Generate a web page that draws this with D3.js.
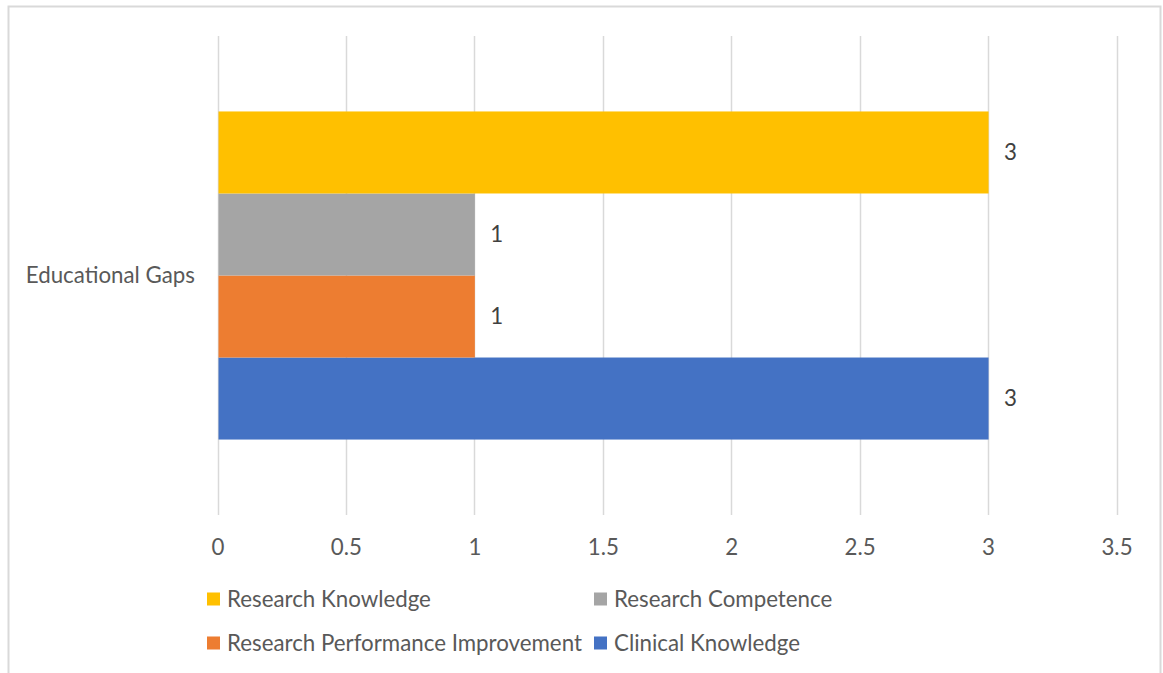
<!DOCTYPE html>
<html>
<head>
<meta charset="utf-8">
<script src="https://cdn.jsdelivr.net/npm/d3@7"></script>
<style>
  html, body { margin: 0; padding: 0; background: #fff; }
  svg { display: block; }
  text { font-family: Lato, "Open Sans", sans-serif; fill: #595959; }
</style>
</head>
<body>
<svg id="chart" width="1163" height="673"></svg>
<script>
// ---- data ----
const categories = ["Educational Gaps"];
const seriesNames = ["Clinical Knowledge", "Research Performance Improvement", "Research Competence", "Research Knowledge"];
const seriesValues = [3, 1, 1, 3];
const seriesColors = ["#4472C4", "#ED7D31", "#A5A5A5", "#FFC000"];
const xTicks = [0, 0.5, 1, 1.5, 2, 2.5, 3, 3.5];
const legendOrder = ["Research Knowledge", "Research Competence", "Research Performance Improvement", "Clinical Knowledge"];

const svg = d3.select("#chart");
const FS = 22.3;

// chart border
svg.append("rect")
  .attr("x", 8.5).attr("y", 6.5)
  .attr("width", 1152).attr("height", 680)
  .attr("fill", "#fff").attr("stroke", "#D9D9D9").attr("stroke-width", 2);

const plot = { left: 217.5, right: 1116.5, top: 36, bottom: 515 };

const x = d3.scaleLinear().domain([0, 3.5]).range([plot.left, plot.right]);

const yCat = d3.scaleBand().domain(categories).range([plot.top, plot.bottom]);

// series from top to bottom (Excel reverses order in horizontal bars)
const ySer = d3.scaleBand()
  .domain(seriesNames.slice().reverse())
  .range([yCat(categories[0]), yCat(categories[0]) + yCat.bandwidth()])
  .paddingInner(0)
  .paddingOuter(0.92);

// gridlines
const grid = svg.append("g");
grid.selectAll("line").data(xTicks).enter().append("line")
  .attr("x1", d => Math.round(x(d)) + 0.5).attr("x2", d => Math.round(x(d)) + 0.5)
  .attr("y1", plot.top).attr("y2", plot.bottom)
  .attr("stroke", "#D9D9D9").attr("stroke-width", 1.5);

// bars
const data = seriesNames.map((s, i) => ({ name: s, value: seriesValues[i], color: seriesColors[i] }));
svg.append("g").selectAll("rect").data(data).enter().append("rect")
  .attr("x", x(0) + 1)
  .attr("y", d => ySer(d.name))
  .attr("width", d => x(d.value) - x(0) - 0.5)
  .attr("height", ySer.bandwidth())
  .attr("fill", d => d.color);

// data labels
svg.append("g").selectAll("text").data(data).enter().append("text")
  .attr("x", d => x(d.value) + 16)
  .attr("y", d => ySer(d.name) + ySer.bandwidth() / 2)
  .attr("dy", "0.35em")
  .attr("font-size", FS)
  .style("fill", "#404040")
  .text(d => d.value);

// x axis tick labels
const xAxis = d3.axisBottom(x).tickValues(xTicks).tickSize(0).tickPadding(0)
  .tickFormat(d => String(d));
const gx = svg.append("g").attr("transform", `translate(0,${plot.bottom})`).call(xAxis);
gx.select(".domain").remove();
gx.selectAll("text")
  .attr("y", 32).attr("dy", "0.35em")
  .attr("font-size", FS).attr("font-family", "Lato, sans-serif")
  .style("fill", "#595959");

// category label
svg.append("g").selectAll("text").data(categories).enter().append("text")
  .attr("x", 195)
  .attr("y", d => yCat(d) + yCat.bandwidth() / 2)
  .attr("dy", "0.35em")
  .attr("text-anchor", "end")
  .attr("font-size", FS)
  .text(d => d);

// legend
const legendCols = [207, 594];
const legendRows = [599, 643];
const lg = svg.append("g");
legendOrder.forEach((name, i) => {
  const col = i % 2, row = Math.floor(i / 2);
  const color = seriesColors[seriesNames.indexOf(name)];
  const g = lg.append("g").attr("transform", `translate(${legendCols[col]},${legendRows[row]})`);
  g.append("rect").attr("x", 0).attr("y", -6.5).attr("width", 13).attr("height", 13).attr("fill", color);
  g.append("text").attr("x", 20).attr("y", 0).attr("dy", "0.35em").attr("font-size", FS).text(name);
});
</script>
</body>
</html>
